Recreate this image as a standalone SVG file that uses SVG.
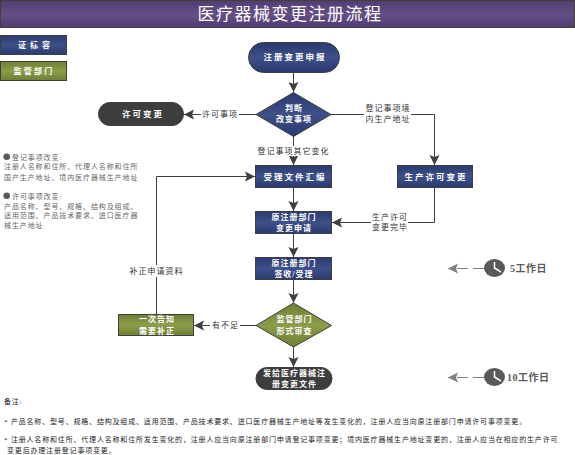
<svg xmlns="http://www.w3.org/2000/svg" width="575" height="455" viewBox="0 0 575 455">
<style>
text{font-family:"Liberation Serif","Noto Sans CJK SC",serif;text-anchor:middle}
.n{stroke:#3f3f3f;stroke-width:1}
.w{fill:#fff;font-size:8px;font-weight:700;letter-spacing:1px}
.b{fill:#fff;font-size:8.500px;font-weight:700;letter-spacing:2px}
.l{fill:#333;font-size:8px;letter-spacing:1px}
.g{fill:#666;font-size:7px;text-anchor:start;letter-spacing:.9px}
.f{fill:#222;font-size:7px;text-anchor:start;letter-spacing:.82px}
.c{fill:none;stroke:#3f3f3f;stroke-width:1}
.t{font-size:10px;font-weight:700;fill:#595959;text-anchor:start;letter-spacing:.5px}
</style>
<defs>
<linearGradient id="blue" x1="0" y1="0" x2="0" y2="1"><stop offset="0" stop-color="#2a3a70"/><stop offset=".5" stop-color="#3e5087"/><stop offset="1" stop-color="#2a3a70"/></linearGradient>
<linearGradient id="green" x1="0" y1="0" x2="0" y2="1"><stop offset="0" stop-color="#6f8034"/><stop offset=".5" stop-color="#8b9c4b"/><stop offset="1" stop-color="#6f8034"/></linearGradient>
<linearGradient id="purple" x1="0" y1="0" x2="0" y2="1"><stop offset="0" stop-color="#503d72"/><stop offset=".5" stop-color="#654f85"/><stop offset="1" stop-color="#503d72"/></linearGradient>
<marker id="a" markerUnits="userSpaceOnUse" markerWidth="11" markerHeight="11" refX="10" refY="5.500" orient="auto"><path d="M0 .5 L10 5.500 L0 10.500 L2 5.500 Z" fill="#3f3f3f"/></marker>
<marker id="ag" markerUnits="userSpaceOnUse" markerWidth="11" markerHeight="11" refX="10" refY="5.500" orient="auto"><path d="M0 .5 L10 5.500 L0 10.500 L2 5.500 Z" fill="#808080"/></marker>
</defs>
<g id="title"><rect class="n" x="0.500" y="0.500" width="574" height="27" fill="url(#purple)"/><text x="290" y="20" fill="#fff" font-size="17" letter-spacing="1.500">医疗器械变更注册流程</text></g>
<g id="legend-applicant"><rect class="n" x="0.500" y="35.500" width="66" height="19" fill="url(#blue)"/><text class="w" x="36" y="48" style="letter-spacing:4px">证标容</text></g>
<g id="legend-regulator"><rect class="n" x="0.500" y="61.500" width="66" height="19" fill="url(#green)"/><text class="w" x="34" y="74" style="letter-spacing:2.200px">监管部门</text></g>
<g id="connectors">
<path class="c" d="M293.500 73V92" marker-end="url(#a)"/>
<path class="c" d="M256 114.500H184" marker-end="url(#a)"/>
<path class="c" d="M331 114.500H434.500V165" marker-end="url(#a)"/>
<path class="c" d="M293.500 136V165" marker-end="url(#a)"/>
<path class="c" d="M293.500 188V211" marker-end="url(#a)"/>
<path class="c" d="M293.500 234V257" marker-end="url(#a)"/>
<path class="c" d="M293.500 280V303" marker-end="url(#a)"/>
<path class="c" d="M293.500 347V367" marker-end="url(#a)"/>
<path class="c" d="M434.500 188V222.500H332" marker-end="url(#a)"/>
<path class="c" d="M256 325.500H194" marker-end="url(#a)"/>
<path class="c" d="M156.500 314V176.500H255" marker-end="url(#a)"/>
<path d="M484 268.500H448" fill="none" stroke="#808080" stroke-dasharray="11 5" marker-end="url(#ag)"/>
<path d="M484 377.500H448" fill="none" stroke="#808080" stroke-dasharray="11 5" marker-end="url(#ag)"/>
</g>
<g id="edge-labels">
<rect x="201" y="108" width="38" height="12" fill="#fff"/><text class="l" x="220" y="117">许可事项</text>
<rect x="364" y="103" width="47" height="22" fill="#fff"/><text class="l" x="388" y="111">登记事项境</text><text class="l" x="388" y="122">内生产地址</text>
<rect x="256" y="146" width="75" height="10" fill="#fff"/><text class="l" x="293.500" y="153.500">登记事项其它变化</text>
<rect x="371" y="211" width="37" height="22" fill="#fff"/><text class="l" x="390" y="219.500">生产许可</text><text class="l" x="390" y="229.500">变更完毕</text>
<rect x="127" y="265" width="58" height="12" fill="#fff"/><text class="l" x="156.500" y="273.500">补正申请资料</text>
<rect x="210" y="319" width="30" height="12" fill="#fff"/><text class="l" x="225.500" y="328">有不足</text>
</g>
<g id="n-start"><rect class="n" x="248.500" y="42.500" width="91" height="30" rx="15" fill="url(#blue)"/><text class="b" x="295" y="60">注册变更申报</text></g>
<g id="n-judge"><path class="n" d="M256 114.500L293.500 92.500L331 114.500L293.500 136.500Z" fill="url(#blue)"/><text class="w" x="294" y="111">判断</text><text class="w" x="294" y="122">改变事项</text></g>
<g id="n-permit"><rect class="n" x="98.500" y="102.500" width="85" height="23" rx="11.500" fill="#3d3d3d"/><text class="b" x="143" y="117">许可变更</text></g>
<g id="n-collect"><rect class="n" x="255.500" y="165.500" width="76" height="22" fill="url(#blue)"/><text class="b" x="295" y="180">受理文件汇编</text></g>
<g id="n-prod"><rect class="n" x="397.500" y="165.500" width="75" height="22" fill="url(#blue)"/><text class="b" x="436" y="180">生产许可变更</text></g>
<g id="n-apply"><rect class="n" x="255.500" y="211.500" width="76" height="22" fill="url(#blue)"/><text class="w" x="294" y="219.500">原注册部门</text><text class="w" x="294" y="230.500">变更申请</text></g>
<g id="n-accept"><rect class="n" x="255.500" y="257.500" width="76" height="22" fill="url(#blue)"/><text class="w" x="294" y="265.500">原注册部门</text><text class="w" x="294" y="276.500">签收/受理</text></g>
<g id="n-review"><path class="n" d="M256 325.500L293.500 303L331.500 325.500L293.500 347Z" fill="url(#green)"/><text class="w" x="294.500" y="322">监管部门</text><text class="w" x="294.500" y="334">形式审查</text></g>
<g id="n-fix"><rect class="n" x="118.500" y="314.500" width="75" height="21" fill="url(#green)"/><text class="w" x="157" y="322">一次告知</text><text class="w" x="157" y="334">需要补正</text></g>
<g id="n-issue"><rect class="n" x="256" y="367.500" width="76" height="22" rx="11" fill="#3d3d3d"/><text class="w" x="294.500" y="376">发给医疗器械注</text><text class="w" x="294.500" y="387">册变更文件</text></g>
<g id="clock-5"><ellipse cx="494.500" cy="268" rx="10.500" ry="9" fill="#595959"/><path d="M494.500 262V268L501 272" fill="none" stroke="#fff" stroke-width="1.500"/><text class="t" x="510" y="272">5工作日</text></g>
<g id="clock-10"><ellipse cx="494.500" cy="377" rx="10.500" ry="9" fill="#595959"/><path d="M494.500 371V377L501 381" fill="none" stroke="#fff" stroke-width="1.500"/><text class="t" x="507" y="381">10工作日</text></g>
<g id="side-notes">
<circle cx="6.700" cy="156.700" r="3.300" fill="#595959"/><text class="g" x="12" y="159.500">登记事项改变:</text>
<text class="g" x="4" y="169">注册人名称和住所、代理人名称和住所</text>
<text class="g" x="4" y="179.500">国产生产地址、境内医疗器械生产地址</text>
<circle cx="6.700" cy="195.700" r="3.300" fill="#595959"/><text class="g" x="12" y="198.500">许可事项改变:</text>
<text class="g" x="4" y="209">产品名称、型号、规格、结构及组成、</text>
<text class="g" x="4" y="218">适用范围、产品技术要求、进口医疗器</text>
<text class="g" x="4" y="228">械生产地址</text>
</g>
<g id="footnotes">
<text class="f" x="4" y="404">备注:</text>
<text class="f" x="4" y="424">* 产品名称、型号、规格、结构及组成、适用范围、产品技术要求、进口医疗器械生产地址等发生变化的，注册人应当向原注册部门申请许可事项变更。</text>
<text class="f" x="4" y="441.500">* 注册人名称和住所、代理人名称和住所发生变化的，注册人应当向原注册部门申请登记事项变更；境内医疗器械生产地址变更的，注册人应当在相应的生产许可</text>
<text class="f" x="7" y="452.500">变更后办理注册登记事项变更。</text>
</g>
</svg>
